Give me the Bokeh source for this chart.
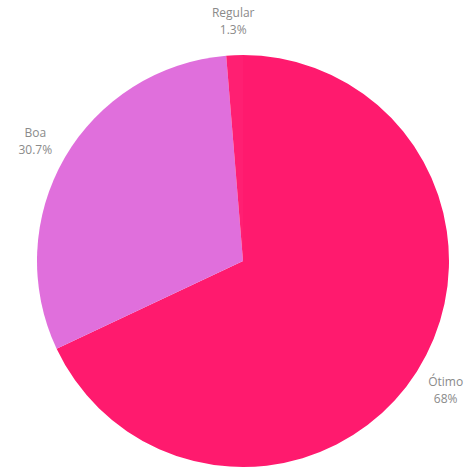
import math
from bokeh.plotting import figure
from bokeh.models import Range1d, ColumnDataSource
from bokeh.core.properties import value
from bokeh.embed import file_html
from bokeh.resources import INLINE

labels = ["Ótimo", "Boa", "Regular"]
percents = [68.0, 30.7, 1.3]
pct_text = ["68%", "30.7%", "1.3%"]
colors = ["#FF1A6E", "#E06FDC", "#FF1F72"]

W, H = 474, 472
cx, cy = 242.5, H - 260.5
R = 206
LR = 240

total = sum(percents)
starts, ends, mids = [], [], []
acc = 0.0
for v in percents:
    b0 = acc / total * 360
    acc += v
    b1 = acc / total * 360
    starts.append(math.radians(90 - b0))
    ends.append(math.radians(90 - b1))
    mids.append(math.radians(90 - (b0 + b1) / 2))

src = ColumnDataSource(dict(start=starts, end=ends, color=colors))

p = figure(width=W, height=H, output_backend="svg", toolbar_location=None,
           x_range=Range1d(0, W), y_range=Range1d(0, H), min_border=0)
p.axis.visible = False
p.grid.visible = False
p.outline_line_color = None

p.wedge(x=cx, y=cy, radius=R, start_angle="start", end_angle="end",
        direction="clock", fill_color="color", line_color=None, source=src)

tx = [cx + LR * math.cos(m) for m in mids]
ty = [cy + LR * math.sin(m) for m in mids]
tsrc = ColumnDataSource(dict(x=tx, y=ty, l1=labels, l2=pct_text))
p.text(x="x", y="y", text="l1", source=tsrc, text_font=value("Open Sans"),
       text_font_size="12px", text_color="#8a8a8a", text_align="center",
       text_baseline="bottom", y_offset=0)
p.text(x="x", y="y", text="l2", source=tsrc, text_font=value("Open Sans"),
       text_font_size="12px", text_color="#8a8a8a", text_align="center",
       text_baseline="top", y_offset=0)

open("out.html", "w").write(file_html(p, INLINE))
